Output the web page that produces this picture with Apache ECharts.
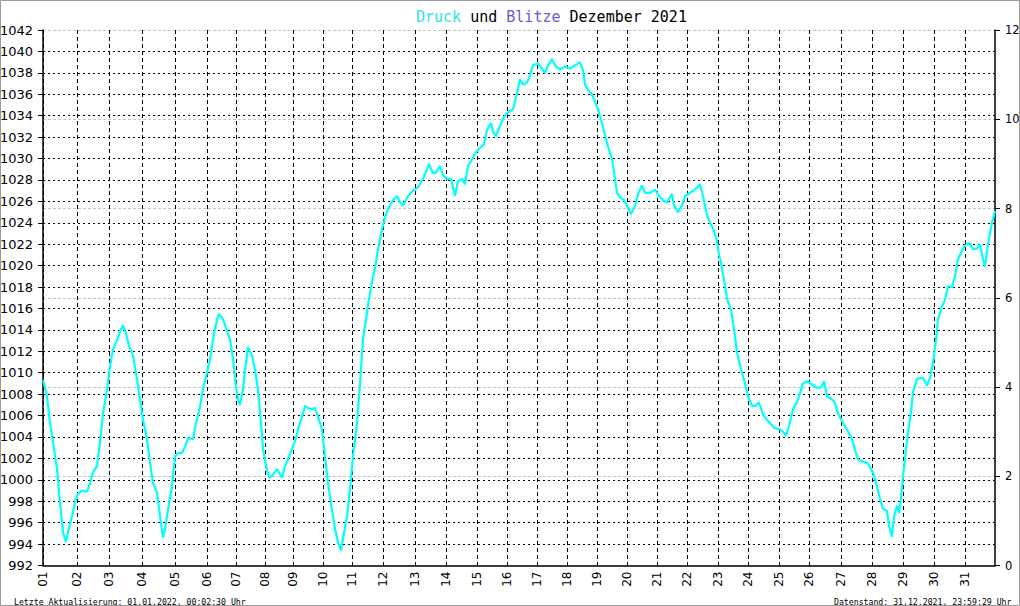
<!DOCTYPE html>
<html><head><meta charset="utf-8">
<script src="https://cdn.jsdelivr.net/npm/echarts@6/dist/echarts.min.js"></script>
<style>html,body{margin:0;padding:0;background:#fff}#c{width:1020px;height:606px}</style>
</head><body><div id="c"></div>
<script>
// ---- data ----
const dayLabels = ['01','02','03','04','05','06','07','08','09','10','11','12','13','14','15','16','17','18','19','20','21','22','23','24','25','26','27','28','29','30','31'];
// number of the first measurement of each day (the original plots by measurement number)
const dayFirstSample = [0,34,66,99,132,164,193,222,250,280,309,340,372,403,434,464,494,524,554,584,614,644,675,705,736,766,798,829,860,891,922];
const sampleCount = 952;
const sampleNo = [0,1,4,7,10,14,17,20,23,25,29,32,35,39,44,47,50,54,57,60,64,67,70,74,77,80,83,86,90,94,97,100,104,107,110,114,117,120,122,125,129,132,135,139,142,145,150,153,157,160,164,167,170,174,176,180,184,187,190,193,195,197,200,202,205,209,212,215,218,220,224,227,230,234,239,242,245,249,252,255,259,262,265,269,272,275,279,282,285,289,292,295,298,300,304,307,310,314,317,320,324,326,329,332,335,339,342,345,350,354,357,360,365,370,375,380,384,386,390,393,397,400,404,408,412,415,419,422,425,429,432,437,441,444,448,450,453,457,461,465,470,474,477,480,484,486,490,495,499,502,505,509,512,517,522,527,532,537,540,542,545,549,552,555,559,562,565,569,571,574,577,581,584,588,592,595,599,602,607,612,616,620,624,629,631,635,639,642,647,652,657,660,664,667,670,674,676,678,681,684,688,691,694,698,702,705,709,712,716,720,724,728,732,737,740,743,746,750,754,757,760,764,769,774,778,781,784,789,792,795,800,804,809,812,815,820,825,830,834,837,840,844,846,849,851,854,856,858,860,863,865,868,870,874,877,880,884,887,890,893,895,899,902,905,909,912,915,919,922,927,930,934,937,940,942,945,949,952];
const pressure = [1009.3,1009.0,1007.8,1005.3,1003.5,1001.0,997.9,995.1,994.2,995.1,996.6,997.9,998.7,999.0,998.9,999.7,1000.7,1001.3,1003.5,1006.2,1008.4,1010.6,1012.2,1013.0,1013.9,1014.4,1013.7,1012.5,1011.6,1009.4,1007.5,1005.6,1003.8,1001.6,999.7,998.8,996.6,994.6,995.4,997.2,999.4,1002.2,1002.5,1002.5,1003.1,1003.9,1003.8,1005.3,1006.8,1008.5,1010.0,1011.2,1013.1,1015.0,1015.5,1015.0,1013.9,1013.1,1011.3,1008.7,1007.5,1007.0,1008.4,1010.3,1012.4,1011.6,1010.3,1008.4,1005.3,1002.9,1000.8,1000.2,1000.5,1001.0,1000.2,1001.3,1001.9,1002.9,1003.6,1004.7,1005.9,1006.9,1006.7,1006.6,1006.7,1005.9,1004.7,1002.2,999.7,997.2,995.4,994.2,993.4,994.5,996.6,999.1,1002.2,1005.3,1009.0,1013.1,1015.6,1016.9,1018.5,1019.8,1021.5,1023.4,1024.5,1025.3,1026.1,1026.5,1025.9,1025.6,1026.5,1027.0,1027.3,1028.1,1029.0,1029.5,1028.6,1028.7,1029.3,1028.4,1028.1,1028.1,1026.5,1027.9,1028.1,1027.6,1029.3,1029.9,1030.5,1031.0,1031.3,1032.7,1033.3,1032.5,1032.1,1033.0,1033.9,1034.3,1034.6,1036.1,1037.4,1036.9,1037.1,1037.5,1038.7,1038.9,1038.4,1038.0,1038.7,1039.3,1038.7,1038.3,1038.6,1038.4,1038.7,1039.0,1038.3,1036.9,1036.4,1036.0,1035.3,1034.6,1033.3,1032.2,1031.1,1030.0,1028.7,1026.8,1026.4,1026.1,1025.6,1024.8,1025.6,1026.7,1027.5,1026.8,1026.8,1027.1,1026.5,1026.1,1025.9,1026.7,1025.6,1025.0,1025.6,1026.5,1026.8,1027.1,1027.6,1026.5,1024.7,1024.0,1023.5,1022.3,1021.0,1020.3,1018.7,1016.9,1015.9,1014.1,1011.9,1010.3,1009.0,1007.8,1006.9,1006.9,1007.2,1006.1,1005.6,1005.2,1004.8,1004.7,1004.5,1004.1,1005.0,1006.6,1007.3,1008.1,1009.0,1009.2,1008.9,1008.6,1008.6,1009.2,1007.8,1007.5,1007.2,1006.2,1005.3,1004.7,1003.8,1002.8,1001.9,1001.7,1001.5,1000.7,999.4,998.2,997.3,997.1,995.7,994.7,996.6,997.6,996.9,998.2,1000.3,1002.9,1004.4,1006.3,1008.2,1009.4,1009.5,1009.5,1008.8,1009.5,1010.9,1013.1,1015.0,1016.2,1016.8,1018.1,1018.0,1019.0,1020.6,1021.4,1021.9,1022.1,1021.5,1021.6,1022.0,1020.6,1019.9,1022.0,1024.0,1025.1];
const blitze = []; // keine Blitze im Dezember 2021 verzeichnet
const pressureAxis = {min: 992, max: 1042, step: 2};
const blitzAxis = {min: 0, max: 12, step: 2};
const titleParts = ['Druck', ' und ', 'Blitze', ' Dezember 2021'];
const footerLeft = 'Letzte Aktualisierung: 01.01.2022, 00:02:30 Uhr';
const footerRight = 'Datenstand: 31.12.2021, 23:59:29 Uhr';

// ---- chart ----
const chart = echarts.init(document.getElementById('c'), null, {renderer: 'svg'});
const pts = sampleNo.map((s, i) => [s, pressure[i]]);
const mono = 'DejaVu Sans Mono';
const sans = 'DejaVu Sans';
chart.setOption({
  animation: false,
  backgroundColor: '#fff',
  title: [
    {
      text: '{c|' + titleParts[0] + '}{k|' + titleParts[1] + '}{b|' + titleParts[2] + '}{k|' + titleParts[3] + '}',
      left: 411, top: 4,
      textStyle: {
        fontFamily: mono, fontSize: 15, fontWeight: 'normal',
        rich: {
          c: {color: '#1ee6e6', fontFamily: mono, fontSize: 15},
          b: {color: '#6a5acd', fontFamily: mono, fontSize: 15},
          k: {color: '#000', fontFamily: mono, fontSize: 15}
        }
      }
    },
    {text: footerLeft, left: 9, top: 593, textStyle: {fontFamily: mono, fontSize: 8.2, fontWeight: 'normal', color: '#000'}},
    {text: footerRight, left: 829, top: 593, textStyle: {fontFamily: mono, fontSize: 8.2, fontWeight: 'normal', color: '#000'}}
  ],
  graphic: [{
    type: 'rect', silent: true, z: 100,
    shape: {x: 0.5, y: 0.5, width: 1019, height: 605},
    style: {fill: 'none', stroke: '#9a9a9a', lineWidth: 1}
  }],
  grid: {left: 43, right: 25, top: 30, bottom: 40.5, containLabel: false, outerBoundsMode: 'none'},
  xAxis: {
    type: 'value', min: 0, max: sampleCount,
    axisLine: {show: true, onZero: false, lineStyle: {color: '#000', width: 1.5}},
    axisTick: {show: false, customValues: dayFirstSample},
    axisLabel: {
      customValues: dayFirstSample, rotate: 90, margin: 6,
      fontFamily: sans, fontSize: 12, color: '#000',
      formatter: v => dayLabels[dayFirstSample.indexOf(Math.round(v))] || ''
    },
    splitLine: {show: true, lineStyle: {color: '#000', width: 1, type: [4, 3]}}
  },
  yAxis: [
    {
      type: 'value', position: 'left',
      min: pressureAxis.min, max: pressureAxis.max, interval: pressureAxis.step,
      axisLine: {show: true, lineStyle: {color: '#000', width: 1.5}},
      axisTick: {show: true, length: 5, lineStyle: {color: '#000'}},
      axisLabel: {margin: 10, fontFamily: sans, fontSize: 13, color: '#000', formatter: v => String(v)},
      splitLine: {show: true, lineStyle: {color: '#000', width: 1, type: [2, 3]}}
    },
    {
      type: 'value', position: 'right',
      min: blitzAxis.min, max: blitzAxis.max, interval: blitzAxis.step,
      axisLine: {show: true, lineStyle: {color: '#000', width: 1.5}},
      axisTick: {show: true, length: 5, lineStyle: {color: '#000'}},
      axisLabel: {margin: 10, fontFamily: sans, fontSize: 11.5, color: '#000', formatter: v => String(v)},
      splitLine: {show: true, lineStyle: {color: '#c4c4c4', width: 1, type: [3, 2]}}
    }
  ],
  series: [
    {
      name: 'Druck', type: 'line', yAxisIndex: 0, data: pts,
      showSymbol: false, symbol: 'none', smooth: false,
      lineStyle: {color: '#00ffff', width: 2.2}, z: 5
    },
    {
      name: 'Blitze', type: 'line', yAxisIndex: 1, data: blitze,
      showSymbol: false, lineStyle: {color: '#6a5acd', width: 1.5}
    }
  ]
});
</script></body></html>
